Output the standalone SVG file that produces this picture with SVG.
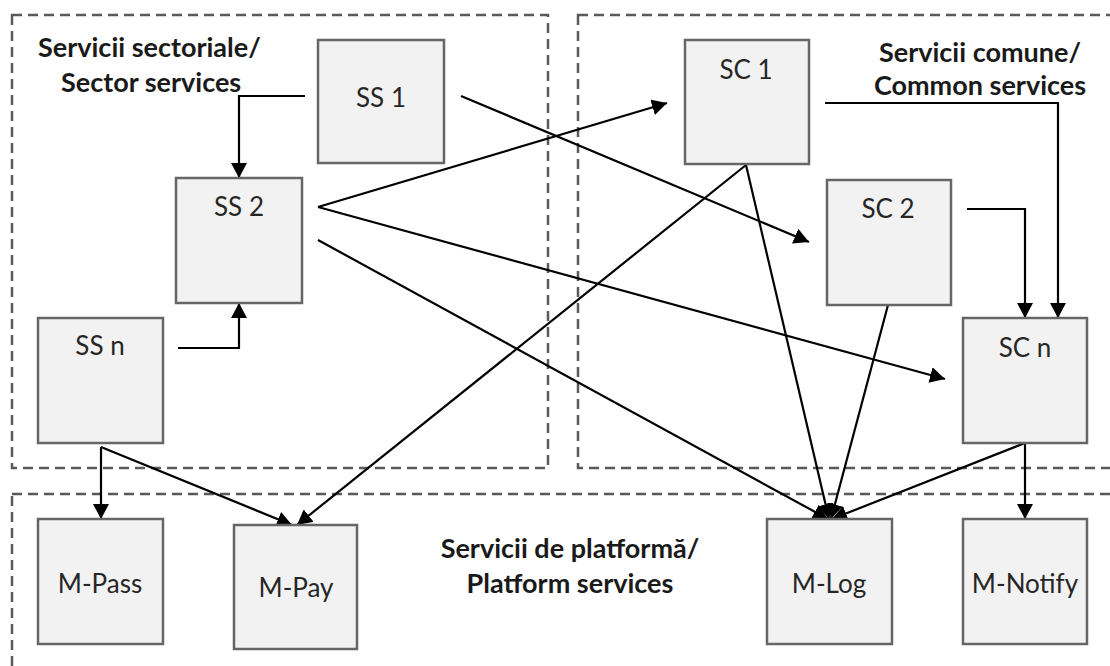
<svg xmlns="http://www.w3.org/2000/svg" width="1110" height="666" viewBox="0 0 1110 666">
<style>
.zone{fill:none;stroke:#5a5a5a;stroke-width:2.5;stroke-dasharray:10 6}
.box{fill:#f2f2f2;stroke:#666666;stroke-width:2.5}
.lbl{font-family:Lato,"Liberation Sans",sans-serif;font-size:26px;fill:#262626;text-anchor:middle}
.ttl{font-family:Lato,"Liberation Sans",sans-serif;font-size:27px;font-weight:bold;fill:#1a1a1a}
.c{fill:none;stroke:#000;stroke-width:2.2;marker-end:url(#ah)}
</style>
<defs>
<marker id="ah" markerUnits="userSpaceOnUse" markerWidth="16" markerHeight="16" refX="15" refY="8" orient="auto">
<path d="M0,0 L15,8 L0,16 z" fill="#000"/>
</marker>
</defs>
<rect width="1110" height="666" fill="#fff"/>
<g id="zones">
<rect class="zone" x="12" y="15" width="536" height="453"/>
<rect class="zone" x="578" y="15" width="560" height="453"/>
<rect class="zone" x="12" y="494" width="1126" height="200"/>
</g>
<g id="titles">
<text class="ttl" x="38" y="57">Servicii sectoriale/</text>
<text class="ttl" x="61" y="92">Sector services</text>
<text class="ttl" x="980" y="62" text-anchor="middle">Servicii comune/</text>
<text class="ttl" x="980" y="95" text-anchor="middle">Common services</text>
<text class="ttl" x="570" y="558" text-anchor="middle">Servicii de platformă/</text>
<text class="ttl" x="570" y="593" text-anchor="middle">Platform services</text>
</g>
<g id="connectors">
<path class="c" d="M305,96 H239 V178"/>
<path class="c" d="M178,348 H239 V303"/>
<path class="c" d="M461,96 L809,242"/>
<path class="c" d="M318,207 L667,103"/>
<path class="c" d="M318,207 L945,379"/>
<path class="c" d="M318,240 L828,519"/>
<path class="c" d="M746,165 L829,519"/>
<path class="c" d="M888,305 L831,519"/>
<path class="c" d="M1025,443 L832,519"/>
<path class="c" d="M1025,443 V519"/>
<path class="c" d="M825,103 H1058 V318"/>
<path class="c" d="M967,209 H1025 V318"/>
<path class="c" d="M746,165 L297,525"/>
<path class="c" d="M101,447 V519"/>
<path class="c" d="M101,447 L292,525"/>
</g>
<g id="ss1"><rect class="box" x="318" y="40" width="126" height="123"/><text class="lbl" x="381" y="107">SS 1</text></g>
<g id="ss2"><rect class="box" x="176" y="178" width="126" height="125"/><text class="lbl" x="239" y="216">SS 2</text></g>
<g id="ssn"><rect class="box" x="38" y="318" width="125" height="125"/><text class="lbl" x="100" y="355">SS n</text></g>
<g id="sc1"><rect class="box" x="685" y="40" width="124" height="124"/><text class="lbl" x="746" y="79">SC 1</text></g>
<g id="sc2"><rect class="box" x="827" y="180" width="124" height="125"/><text class="lbl" x="888" y="218">SC 2</text></g>
<g id="scn"><rect class="box" x="963" y="318" width="124" height="125"/><text class="lbl" x="1025" y="357">SC n</text></g>
<g id="mpass"><rect class="box" x="38" y="519" width="125" height="125"/><text class="lbl" x="100" y="593">M-Pass</text></g>
<g id="mpay"><rect class="box" x="234" y="525" width="123" height="124"/><text class="lbl" x="296" y="597">M-Pay</text></g>
<g id="mlog"><rect class="box" x="767" y="519" width="125" height="125"/><text class="lbl" x="829" y="593">M-Log</text></g>
<g id="mnotify"><rect class="box" x="963" y="519" width="124" height="125"/><text class="lbl" x="1025" y="593">M-Notify</text></g>
</svg>
